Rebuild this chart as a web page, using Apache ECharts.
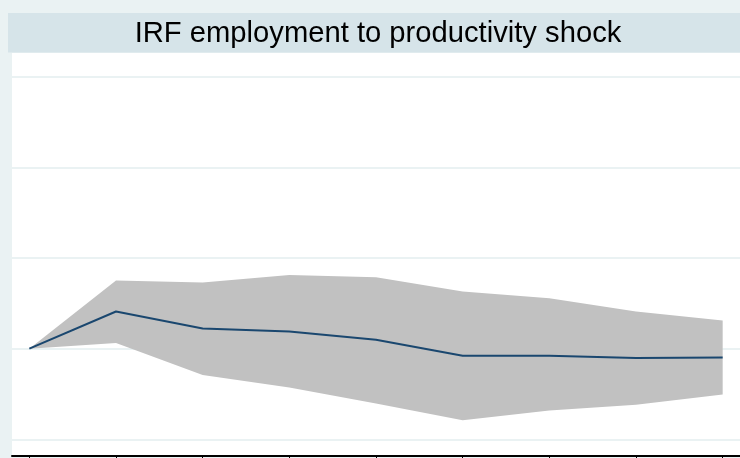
<!DOCTYPE html>
<html>
<head>
<meta charset="utf-8">
<script src="https://cdn.jsdelivr.net/npm/echarts@6/dist/echarts.min.js"></script>
<style>
  html, body { margin: 0; padding: 0; background: #eaf2f3; }
  #chart { width: 740px; height: 458px; }
</style>
</head>
<body>
<div id="chart"></div>
<script>
// Impulse response of employment to a productivity shock, with confidence band
const steps = [0, 1, 2, 3, 4, 5, 6, 7, 8];
const irf = [0, 0.41, 0.223, 0.19, 0.099, -0.077, -0.077, -0.102, -0.096];
const upperCI = [0, 0.751, 0.729, 0.813, 0.788, 0.630, 0.557, 0.410, 0.311];
const lowerCI = [0, 0.063, -0.289, -0.429, -0.604, -0.788, -0.681, -0.619, -0.505];
const gridValues = [-1, 0, 1, 2, 3];

const pairs = (ys) => steps.map((s, i) => [s, ys[i]]);
const bandData = steps.map((s, i) => [s, upperCI[i], lowerCI[i]]);

// Confidence band drawn as a single polygon: upper bound left→right, lower bound back
function renderBand(params, api) {
  if (params.dataIndex !== 0) return null;
  const top = bandData.map(d => api.coord([d[0], d[1]]));
  const bottom = bandData.slice().reverse().map(d => api.coord([d[0], d[2]]));
  return {
    type: 'polygon',
    shape: { points: top.concat(bottom) },
    style: { fill: '#c1c1c1', stroke: null }
  };
}

const chart = echarts.init(document.getElementById('chart'), null, { renderer: 'canvas' });
chart.setOption({
  backgroundColor: '#eaf2f3',
  animation: false,
  graphic: [{
    type: 'rect',
    z: 0,
    shape: { x: 8, y: 13, width: 732, height: 39.5 },
    style: { fill: '#d6e4e9' }
  }],
  title: {
    text: 'IRF employment to productivity shock',
    left: 373,
    textAlign: 'center',
    top: 14.5,
    z: 10,
    textStyle: {
      fontFamily: 'Liberation Sans, Arial, sans-serif',
      fontWeight: 'normal',
      fontSize: 29.2,
      color: '#000'
    }
  },
  grid: {
    left: 12, right: 0, top: 53, bottom: 2,
    show: true, backgroundColor: '#ffffff', borderWidth: 0
  },
  xAxis: {
    type: 'value',
    min: -0.2, max: 8.2,
    axisLine: { show: true, onZero: false, lineStyle: { color: '#000', width: 2 } },
    axisTick: { show: true, customValues: steps, length: 2, lineStyle: { color: '#000' } },
    axisLabel: { show: false, customValues: steps },
    splitLine: { show: false }
  },
  yAxis: {
    type: 'value',
    min: -1.183, max: 3.26,
    axisLine: { show: false },
    axisTick: { show: false, customValues: gridValues },
    axisLabel: { show: false, customValues: gridValues },
    splitLine: { show: true, lineStyle: { color: '#eaf2f3', width: 2 } }
  },
  series: [
    {
      name: 'band',
      type: 'custom',
      renderItem: renderBand,
      data: bandData,
      encode: { x: 0, y: [1, 2] },
      silent: true,
      z: 2
    },
    {
      name: 'irf',
      type: 'line',
      data: pairs(irf),
      symbol: 'none',
      lineStyle: { color: '#1a476f', width: 2 },
      z: 3
    }
  ]
});
</script>
</body>
</html>
